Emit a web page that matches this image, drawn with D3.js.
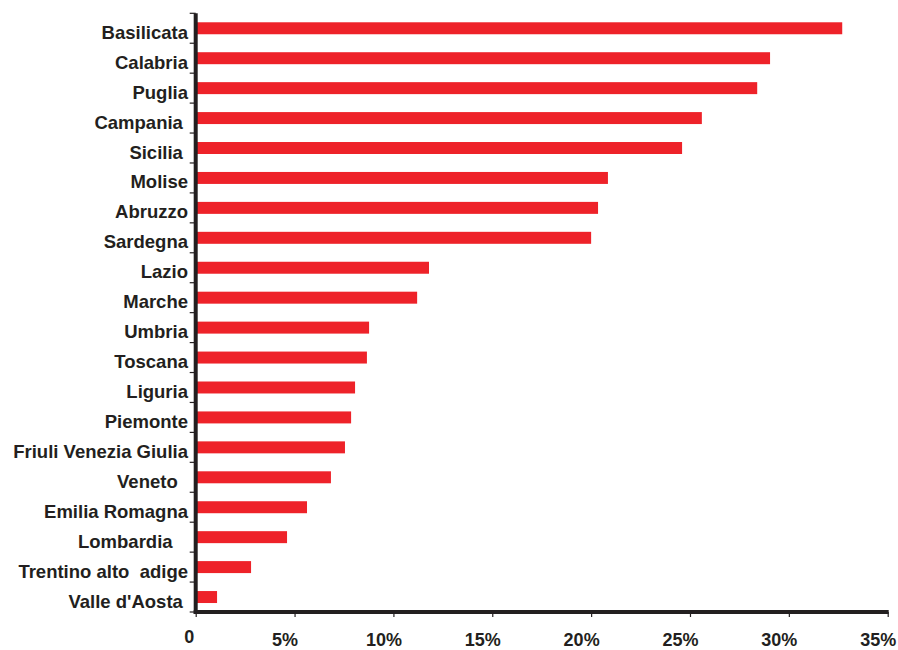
<!DOCTYPE html>
<html>
<head>
<meta charset="utf-8">
<script src="https://cdn.jsdelivr.net/npm/d3@7"></script>
<style>
  body { margin: 0; background: #fff; }
  text { font-family: "Liberation Sans", Arial, Helvetica, sans-serif; font-weight: bold; fill: #231f20; }
</style>
</head>
<body>
<svg id="chart" width="898" height="650"></svg>
<script>
// regions, top to bottom (trailing spaces as in the original labels)
var regions = ["Basilicata", "Calabria", "Puglia", "Campania ", "Sicilia ", "Molise", "Abruzzo",
    "Sardegna", "Lazio", "Marche", "Umbria", "Toscana", "Liguria", "Piemonte",
    "Friuli Venezia Giulia", "Veneto  ", "Emilia Romagna", "Lombardia   ",
    "Trentino alto  adige", "Valle d'Aosta "];
var values = [32.7, 29.05, 28.4, 25.6, 24.6, 20.85, 20.35, 20.0, 11.8, 11.2,
    8.77, 8.66, 8.06, 7.86, 7.55, 6.84, 5.63, 4.62, 2.8, 1.08];
var xTicks = [0, 5, 10, 15, 20, 25, 30, 35];

var data = regions.map(function(r, i) { return {name: r, value: values[i]}; });

var plotLeft = 195.7, plotRight = 887.7, plotTop = 13.3, plotBottom = 612;
var ink = '#231f20';

var svg = d3.select('#chart');

var x = d3.scaleLinear().domain([0, 35]).range([plotLeft, plotRight]);
var y = d3.scaleBand().domain(regions).range([plotTop, plotBottom])
    .paddingInner(0.6).paddingOuter(0.3);

// bars
svg.append('g').selectAll('rect')
    .data(data)
    .enter().append('rect')
    .attr('x', x(0))
    .attr('y', function(d) { return y(d.name); })
    .attr('width', function(d) { return x(d.value) - x(0); })
    .attr('height', y.bandwidth())
    .attr('fill', '#ee2229');

// category labels
svg.append('g').selectAll('text')
    .data(data)
    .enter().append('text')
    .attr('x', 188)
    .attr('y', function(d) { return y(d.name) + y.bandwidth() / 2 + 10.5; })
    .attr('text-anchor', 'end')
    .style('font-size', '18.5px')
    .style('white-space', 'pre')
    .text(function(d) { return d.name; });

// y axis with ticks between categories
var yAxis = svg.append('g');
yAxis.selectAll('line.tick')
    .data(d3.range(regions.length + 1))
    .enter().append('line')
    .attr('class', 'tick')
    .attr('x1', plotLeft - 6).attr('x2', plotLeft)
    .attr('y1', function(i) { return plotTop + i * y.step(); })
    .attr('y2', function(i) { return plotTop + i * y.step(); })
    .attr('stroke', ink).attr('stroke-width', 1.2);
yAxis.append('line')
    .attr('x1', plotLeft).attr('x2', plotLeft)
    .attr('y1', plotTop).attr('y2', plotBottom + 2)
    .attr('stroke', ink).attr('stroke-width', 4);

// x axis
var xAxis = svg.append('g')
    .attr('transform', 'translate(0,' + plotBottom + ')')
    .call(d3.axisBottom(x).tickValues(xTicks)
        .tickFormat(function(d) { return d === 0 ? '0' : d + '%'; })
        .tickSize(5).tickSizeOuter(0));
xAxis.select('.domain')
    .attr('stroke', ink).attr('stroke-width', 4)
    .attr('d', 'M' + (plotLeft - 2) + ',0H' + (plotRight + 1));
xAxis.selectAll('.tick line').attr('stroke', ink).attr('stroke-width', 1.2);
xAxis.selectAll('.tick text')
    .attr('fill', ink)
    .style('font-size', '18px')
    .attr('font-family', null)
    .attr('y', 34).attr('dy', 0).attr('dx', -10);
xAxis.selectAll('.tick text').filter(function(d) { return d === 0; })
    .attr('dx', -7).attr('y', 31);
</script>
</body>
</html>
